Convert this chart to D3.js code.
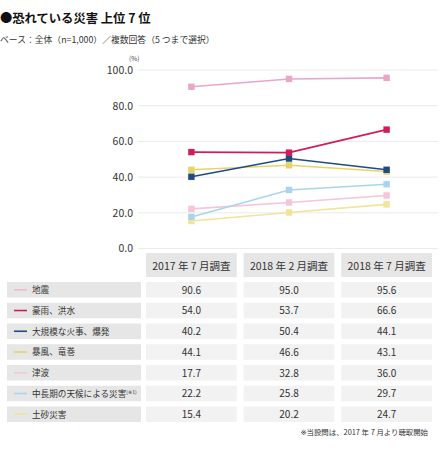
<!DOCTYPE html>
<html><head><meta charset="utf-8">
<script src="https://cdn.jsdelivr.net/npm/d3@7/dist/d3.min.js"></script>
<style>
body{margin:0;background:#fff;}
text{font-family:"Noto Sans CJK JP","Noto Sans CJK SC",sans-serif;}
.ref{font-family:"DejaVu Sans";}
</style></head>
<body><svg id="c" width="446" height="450"></svg>
<script>
const periods = ["2017 年 7 月調査", "2018 年 2 月調査", "2018 年 7 月調査"];
const seriesNames = ["地震", "豪雨、洪水", "大規模な火事、爆発", "暴風、竜巻", "津波", "中長期の天候による災害", "土砂災害"];
const v地震 = [90.6, 95.0, 95.6];
const v豪雨 = [54.0, 53.7, 66.6];
const v火事 = [40.2, 50.4, 44.1];
const v暴風 = [44.1, 46.6, 43.1];
const v津波 = [17.7, 32.8, 36.0];
const v天候 = [22.2, 25.8, 29.7];
const v土砂 = [15.4, 20.2, 24.7];
const seriesValues = [v地震, v豪雨, v火事, v暴風, v津波, v天候, v土砂];
const lineColors = ["#e9a6c8", "#cf1d5c", "#1d4c83", "#e6d46a", "#a9d5ec", "#f4c6d8", "#f2e498"];
const legendColors = ["#f0b7d2", "#cf1d5c", "#1d4c83", "#e6d46a", "#f4c6d8", "#a9d5ec", "#f2e498"];
const yTicks = [0, 20, 40, 60, 80, 100];
const REF = "\u203B";

const svg = d3.select("#c");
svg.append("text").attr("x", 0).attr("y", 23).attr("font-size", 12.3).attr("font-weight", "bold").attr("fill", "#111")
  .text("●恐れている災害 上位 7 位");
svg.append("text").attr("x", 0).attr("y", 43).attr("font-size", 8.8).attr("fill", "#333")
  .text("ベース：全体（n=1,000）／複数回答（5 つまで選択）");

const y = d3.scaleLinear().domain([0, 100]).range([248.5, 70]);
const xBand = d3.scaleBand().domain(periods).range([146, 432]).paddingInner(0.07).paddingOuter(0);
const xc = p => xBand(p) + xBand.bandwidth() / 2;

// axis labels
const gAxis = svg.append("g").attr("transform", "translate(139,0)");
gAxis.call(d3.axisLeft(y).tickValues(yTicks).tickFormat(d3.format(".1f")).tickSize(0).tickPadding(6))
  .call(g => g.select(".domain").remove())
  .call(g => g.selectAll("text").attr("font-size", 10.5).attr("fill", "#333").attr("font-family", "Noto Sans CJK JP"));
// grid
svg.append("g").selectAll("line").data(yTicks).join("line")
  .attr("x1", 138).attr("x2", 438).attr("y1", d => y(d)).attr("y2", d => y(d))
  .attr("stroke", "#ebebeb").attr("stroke-width", 1);
svg.append("text").attr("x", 129).attr("y", 61).attr("font-size", 6.5).attr("fill", "#444").text("(%)");

// lines
const line = d3.line().x((d, i) => xc(periods[i])).y(d => y(d));
const order = d3.range(seriesNames.length).reverse();
order.forEach(si => {
  const g = svg.append("g");
  g.append("path").attr("d", line(seriesValues[si])).attr("fill", "none")
    .attr("stroke", lineColors[si]).attr("stroke-width", 1.6);
  g.selectAll("rect").data(seriesValues[si]).join("rect")
    .attr("x", (d, i) => xc(periods[i]) - 3.2).attr("y", d => y(d) - 3.2)
    .attr("width", 6.4).attr("height", 6.4).attr("fill", lineColors[si]);
});

// table header
const hdr = svg.append("g");
periods.forEach(p => {
  hdr.append("rect").attr("x", xBand(p)).attr("y", 253).attr("width", xBand.bandwidth()).attr("height", 24).attr("fill", "#e6e6e6");
  hdr.append("text").attr("x", xc(p)).attr("y", 269.5).attr("text-anchor", "middle").attr("font-size", 10.5).attr("fill", "#333").text(p);
});

// rows
const rowY = d3.scaleBand().domain(seriesNames).range([282, 422]).paddingInner(0.25).paddingOuter(0);
seriesNames.forEach((name, si) => {
  const ry = rowY(name), rh = rowY.bandwidth();
  const g = svg.append("g");
  g.append("rect").attr("x", 7).attr("y", ry).attr("width", 134).attr("height", rh).attr("fill", "#e6e6e6");
  g.append("line").attr("x1", 14).attr("x2", 27).attr("y1", ry + rh / 2).attr("y2", ry + rh / 2)
    .attr("stroke", legendColors[si]).attr("stroke-width", 1.6);
  const t = g.append("text").attr("x", 32).attr("y", ry + rh / 2 + 3.3).attr("font-size", 8.6).attr("fill", "#333").text(name);
  if (name === "中長期の天候による災害") {
    const s = t.append("tspan").attr("font-size", 5).attr("dy", -3);
    s.append("tspan").text("(");
    s.append("tspan").attr("class", "ref").text(REF);
    s.append("tspan").text("1)");
  }
  periods.forEach((p, pi) => {
    g.append("rect").attr("x", xBand(p)).attr("y", ry).attr("width", xBand.bandwidth()).attr("height", rh).attr("fill", "#f2f2f2");
    g.append("text").attr("x", xc(p)).attr("y", ry + rh / 2 + 3.8).attr("text-anchor", "middle").attr("font-size", 10).attr("fill", "#333")
      .text(d3.format(".1f")(seriesValues[si][pi]));
  });
});

const fn = svg.append("text").attr("x", 428).attr("y", 435).attr("text-anchor", "end").attr("font-size", 7.4).attr("fill", "#333");
fn.append("tspan").attr("class", "ref").text(REF);
fn.append("tspan").text("当設問は、2017 年 7 月より聴取開始");
</script></body></html>
